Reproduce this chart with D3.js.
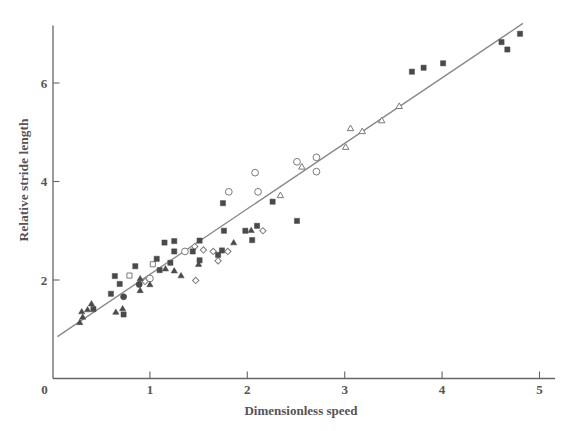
<!DOCTYPE html>
<html>
<head>
<meta charset="utf-8">
<script src="https://cdn.jsdelivr.net/npm/d3@7"></script>
<style>
body { margin: 0; background: #fff; }
svg { display: block; }
.tick-label, .axis-title { font-family: "Liberation Serif", "DejaVu Serif", serif; font-weight: bold; fill: #555; }
</style>
</head>
<body>
<div id="plot"></div>
<script>
// values: [dimensionless speed, relative stride length]
var filledSquares = [
  [0.42, 1.41], [0.60, 1.72], [0.64, 2.08], [0.69, 1.92], [0.73, 1.30], [0.85, 2.28],
  [1.07, 2.43], [1.10, 2.20], [1.15, 2.76], [1.25, 2.79], [1.25, 2.58], [1.21, 2.35],
  [1.44, 2.58], [1.51, 2.80], [1.51, 2.40], [1.70, 2.51], [1.74, 2.60], [1.76, 3.00],
  [1.75, 3.56], [1.98, 3.00], [2.05, 2.81], [2.10, 3.10], [2.26, 3.59], [2.51, 3.20],
  [3.69, 6.23], [3.81, 6.31], [4.01, 6.40], [4.61, 6.83], [4.67, 6.68], [4.80, 7.00]
];
var filledCircles = [[0.73, 1.66], [0.89, 1.91]];
var filledTriangles = [
  [0.28, 1.13], [0.30, 1.35], [0.31, 1.24], [0.36, 1.39], [0.40, 1.51], [0.65, 1.34],
  [0.72, 1.41], [0.90, 2.02], [0.90, 1.78], [1.00, 1.90], [1.16, 2.22], [1.25, 2.18],
  [1.32, 2.08], [1.50, 2.31], [1.86, 2.75], [2.04, 3.00]
];
var openCircles = [
  [1.00, 2.03], [1.36, 2.58], [1.81, 3.79], [2.08, 4.18], [2.11, 3.79], [2.51, 4.40],
  [2.71, 4.49], [2.71, 4.20]
];
var openTriangles = [
  [2.34, 3.71], [2.56, 4.29], [3.01, 4.69], [3.06, 5.07], [3.18, 5.01], [3.38, 5.23], [3.56, 5.52]
];
var openSquares = [[0.79, 2.09], [1.03, 2.32]];
var openDiamonds = [
  [0.95, 1.97], [1.46, 2.68], [1.55, 2.61], [1.65, 2.58], [1.80, 2.58], [1.70, 2.39],
  [1.47, 1.99], [2.16, 3.00]
];
var fitX = [0.05, 4.83];
var fitY = [0.85, 7.21];
var xTicks = [1, 2, 3, 4, 5];
var yTicks = [2, 4, 6];

var width = 579, height = 431;
var x = d3.scaleLinear().domain([0, 5]).range([52.5, 539.5]);
var y = d3.scaleLinear().domain([0, 6]).range([378.5, 83]);

var svg = d3.select("#plot").append("svg").attr("width", width).attr("height", height);

var axisColor = "#666";
// axis lines
svg.append("line").attr("x1", x(0) + 0.5).attr("x2", x(5.16)).attr("y1", y(0)).attr("y2", y(0))
  .attr("stroke", axisColor).attr("stroke-width", 1.3);
svg.append("line").attr("x1", x(0) + 0.5).attr("x2", x(0) + 0.5).attr("y1", y(0)).attr("y2", y(7.17))
  .attr("stroke", axisColor).attr("stroke-width", 1.3);

// x ticks (pointing inward / up)
svg.selectAll(".xtick").data(xTicks).enter().append("line")
  .attr("x1", function(d) { return x(d); }).attr("x2", function(d) { return x(d); })
  .attr("y1", y(0)).attr("y2", y(0) - 7)
  .attr("stroke", axisColor).attr("stroke-width", 1.1);
svg.selectAll(".xlab").data([0].concat(xTicks)).enter().append("text")
  .attr("class", "tick-label")
  .attr("x", function(d) { return d === 0 ? x(0) - 8 : x(d); })
  .attr("y", y(0) + 15)
  .attr("text-anchor", "middle").attr("font-size", 13)
  .text(function(d) { return d; });

// y ticks (pointing inward / right)
svg.selectAll(".ytick").data(yTicks).enter().append("line")
  .attr("x1", x(0) + 0.5).attr("x2", x(0) + 7)
  .attr("y1", function(d) { return y(d); }).attr("y2", function(d) { return y(d); })
  .attr("stroke", axisColor).attr("stroke-width", 1.1);
svg.selectAll(".ylab").data(yTicks).enter().append("text")
  .attr("class", "tick-label")
  .attr("x", 44).attr("y", function(d) { return y(d) + 4.5; })
  .attr("text-anchor", "middle").attr("font-size", 13)
  .text(function(d) { return d; });

// axis titles
svg.append("text").attr("class", "axis-title")
  .attr("x", 301).attr("y", 415).attr("text-anchor", "middle").attr("font-size", 13)
  .text("Dimensionless speed");
svg.append("text").attr("class", "axis-title")
  .attr("transform", "translate(28,180) rotate(-90)")
  .attr("text-anchor", "middle").attr("font-size", 13.5)
  .text("Relative stride length");

// fitted line
svg.append("line")
  .attr("x1", x(fitX[0])).attr("y1", y(fitY[0]))
  .attr("x2", x(fitX[1])).attr("y2", y(fitY[1]))
  .attr("stroke", "#888").attr("stroke-width", 1.3);

var dark = "#4a4a4a", openStroke = "#7a7a7a";

function drawSeries(data, type, size, filled, rotate) {
  var sym = d3.symbol().type(type).size(size);
  svg.append("g").selectAll("path").data(data).enter().append("path")
    .attr("d", sym)
    .attr("transform", function(d) {
      return "translate(" + x(d[0]) + "," + y(d[1]) + ")" + (rotate ? " rotate(45)" : "");
    })
    .attr("fill", filled ? dark : "#fff")
    .attr("stroke", filled ? dark : openStroke)
    .attr("stroke-width", filled ? 0.5 : 1);
}

drawSeries(openDiamonds, d3.symbolSquare, 20, false, true);
drawSeries(openCircles, d3.symbolCircle, 36, false);
drawSeries(openTriangles, d3.symbolTriangle, 18, false);
drawSeries(openSquares, d3.symbolSquare, 26, false);
drawSeries(filledSquares, d3.symbolSquare, 27, true);
drawSeries(filledCircles, d3.symbolCircle, 30, true);
drawSeries(filledTriangles, d3.symbolTriangle, 17, true);
</script>
</body>
</html>
